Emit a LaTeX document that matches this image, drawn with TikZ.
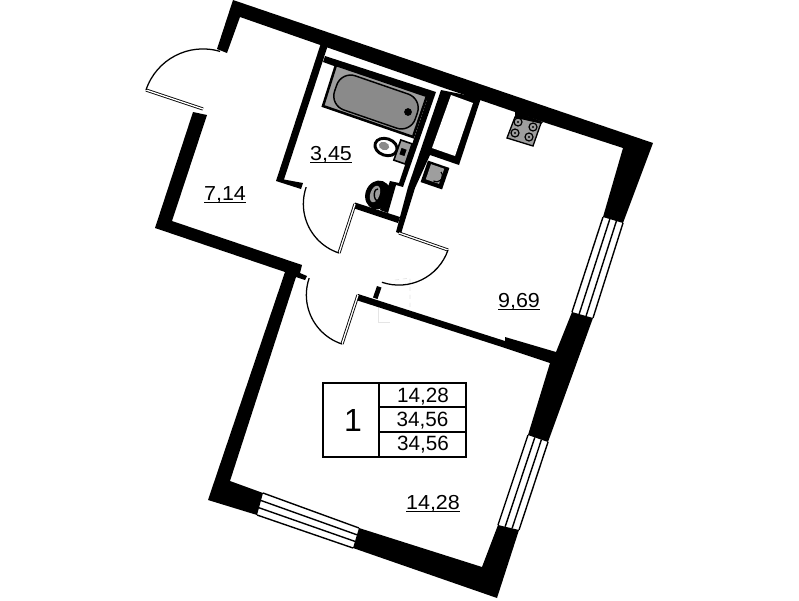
\documentclass[tikz,border=0pt]{standalone}
\usepackage{fontspec}
\setmainfont{Liberation Sans}
\newfontfamily\widefont[FakeStretch=1.06]{Liberation Sans}
\usetikzlibrary{calc,shapes.geometric}
\definecolor{tubgray}{gray}{0.54}
\definecolor{hatchgray}{gray}{0.62}
\definecolor{ghostgray}{gray}{0.9}
\tikzset{
  x=0.75pt,y=-0.75pt,
  wallfill/.style={fill=black,draw=none},
  doorarc/.style={draw=black,line width=0.95pt},
  doorleaf/.style={draw=black,line width=0.65pt,double=white,double distance=1pt},
  winline/.style={draw=black,line width=1.05pt},
  tablebox/.style={draw=black,line width=1pt},
  areatext/.style={font=\widefont\fontsize{15.2pt}{16pt}\selectfont,inner sep=0pt,anchor=base},
  tabletext/.style={font=\fontsize{15.5pt}{16pt}\selectfont,inner sep=0pt},
  ring/.style={circle,draw=black,line width=0.9pt,fill=hatchgray,inner sep=0pt,minimum size=6pt},
}
\newcommand{\winbands}[4]{%
  \foreach \t in {0,0.34,0.67,1}{\draw[winline] ($(#1)!\t!(#2)$) -- ($(#3)!\t!(#4)$);}}
\newcommand{\ulab}[1]{\underline{\smash{#1}}}
\begin{document}
\begin{tikzpicture}
\useasboundingbox (0,0) rectangle (799,600);
\fill[white] (0,0) rectangle (799,600);
% faint ghost marks
\draw[ghostgray,line width=0.5pt,dashed] (395,280) -- (410,278) -- (410,310);
\draw[ghostgray,line width=0.5pt] (378,305) -- (378,322) -- (390,322);
% outer top wall with right-hand block
\fill[wallfill] (233,0) -- (653,143) -- (623,223) -- (603,217) -- (623,148) -- (543,122) -- (515,112) -- (480,100) -- (444,88) -- (326,47) -- (240,17) -- (227,53) -- (217,49) -- cycle;
% left/hall walls
\fill[wallfill] (207,115) -- (172,221) -- (302,265) -- (300,273) -- (307,276) -- (305,280) -- (296,277) -- (230,481) -- (263,493) -- (257,515) -- (208,500) -- (285,272) -- (155,228) -- (193,112) -- cycle;
% bottom wall
\fill[wallfill] (359,528) -- (482,567) -- (498,525) -- (519,530) -- (497,598) -- (353,548) -- cycle;
% right middle block
\fill[wallfill] (572,312) -- (593,318) -- (548,442) -- (528,435) -- (550,363) -- (505,348) -- (505,337) -- (556,352) -- cycle;
\fill[wallfill] (358,294) -- (505,341) -- (505,348) -- (356,300) -- cycle;
\fill[wallfill] (377,286) -- (381.5,287.5) -- (377.5,299) -- (373,297.5) -- cycle;
% bathroom walls
\fill[wallfill] (325,56) -- (436,92) -- (403,187) -- (396,185) -- (388,213) -- (380,210) -- (390,181) -- (399,183) -- (427,100) -- (323,62) -- cycle;
\fill[wallfill] (355,202.5) -- (400,217) -- (398,223) -- (353,208) -- cycle;
\fill[wallfill] (321,43) -- (328,45) -- (284,179.5) -- (303,183) -- (301,189) -- (276,181) -- cycle;
% wet wall with shaft
\fill[wallfill] (441,90) -- (481,98) -- (459,165) -- (430,155) -- (415,188) -- (403,227) -- (401,234) -- (396,232) -- (408,187) -- cycle;
\fill[white] (451,95) -- (473,103) -- (455,156) -- (432,148) -- cycle;
% windows
\winbands{603,217}{623,223}{572,312}{593,318}
\winbands{528,435}{548,442}{498,525}{519,530}
\winbands{263,493}{257,515}{359,528}{353,548}
% doors
\coordinate (h1) at (203,109); \coordinate (e1) at (146,90);
\draw[doorleaf] (h1) -- (e1);
\draw[doorarc] (e1) arc[start angle=161.6,end angle=73.4,radius=45pt];
\coordinate (h2) at (355,204); \coordinate (e2) at (339,253);
\draw[doorleaf] (h2) -- (e2);
\draw[doorarc] (e2) arc[start angle=252,end angle=161,radius=38.7pt];
\coordinate (h3) at (358,295); \coordinate (e3) at (342,344);
\draw[doorleaf] (h3) -- (e3);
\draw[doorarc] (e3) arc[start angle=252,end angle=161,radius=38.7pt];
\coordinate (h4) at (399,233); \coordinate (e4) at (448,250);
\draw[doorleaf] (h4) -- (e4);
\draw[doorarc] (e4) arc[start angle=-19,end angle=-109,radius=39pt];
% bath
\draw[fill=hatchgray,draw=black,line width=1.9pt] (336,65) -- (323,106) -- (413,137) -- (427,96) -- cycle;
\node[rotate=-19,draw=black,fill=tubgray,line width=1.1pt,rounded corners=11pt,minimum width=64pt,minimum height=27pt,inner sep=0pt] (tub) at (376,102) {};
\fill[black] (408,112) circle[radius=2.9pt];
% toilet
\node[ellipse,rotate=-19,draw=black,fill=white,line width=2.2pt,minimum width=17pt,minimum height=12.5pt,inner sep=0pt] (bowl) at (386,147) {};
\node[ellipse,rotate=-19,fill=tubgray,minimum width=8pt,minimum height=6pt,inner sep=0pt] (bowlin) at (384,146) {};
\node[rotate=-19,draw=black,fill=hatchgray,line width=1.2pt,minimum width=9pt,minimum height=16pt,inner sep=0pt] (tank) at (403,152) {};
\node[rotate=-19,fill=black,minimum width=4pt,minimum height=5pt,inner sep=0pt] (tankin) at (403,152) {};
% bidet
\node[ellipse,rotate=-19,fill=black,minimum width=19pt,minimum height=22pt,inner sep=0pt] (bid) at (378,195) {};
\fill[black] (378,183) -- (391,186) -- (386,208) -- (373,204) -- cycle;
\node[ellipse,rotate=-19,fill=hatchgray,minimum width=7pt,minimum height=13pt,inner sep=0pt] (bidin) at (375,194) {};
\draw[black,line width=1pt] (378,189) arc[start angle=80,end angle=280,x radius=2.4pt,y radius=4.4pt];
% sink
\node[rotate=-19,fill=black,minimum width=17pt,minimum height=17pt,inner sep=0pt] (sink) at (435,175) {};
\node[rotate=-19,fill=hatchgray,minimum width=10.5pt,minimum height=12pt,inner sep=0pt] (sinkin) at (435,174) {};
\draw[black,line width=0.9pt] (441,172) arc[start angle=40,end angle=-120,radius=4.5pt];
% hob
\fill[black] (515,111) -- (543,122) -- (541,124) -- (515,117) -- cycle;
\draw[draw=black,fill=hatchgray,line width=1pt] (515,117) -- (541,123) -- (533,146) -- (507,138) -- cycle;
\node[ring] (r1) at (518,122) {};
\node[ring] (r2) at (533,127) {};
\node[ring] (r3) at (515,133) {};
\node[ring] (r4) at (529,137) {};
\foreach \n in {r1,r2,r3,r4}{\fill[black] (\n) circle[radius=0.9pt];}
% table
\draw[tablebox] (323,383) rectangle (466,457);
\draw[tablebox] (379,383) -- (379,457);
\draw[tablebox] (379,407) -- (466,407);
\draw[tablebox] (379,432) -- (466,432);
\node[font=\fontsize{24pt}{26pt}\selectfont,inner sep=0pt] (tnum) at (353,420) {1};
\node[tabletext] (t1) at (423,397) {14,28};
\node[tabletext] (t2) at (422.5,421) {34,56};
\node[tabletext] (t3) at (423,445) {34,56};
% room areas
\node[areatext] (a1) at (225,200.5) {\ulab{7,14}};
\node[areatext] (a2) at (331,160.5) {\ulab{3,45}};
\node[areatext] (a3) at (519,307.5) {\ulab{9,69}};
\node[areatext] (a4) at (433,509.5) {\ulab{14,28}};
\end{tikzpicture}
\end{document}
